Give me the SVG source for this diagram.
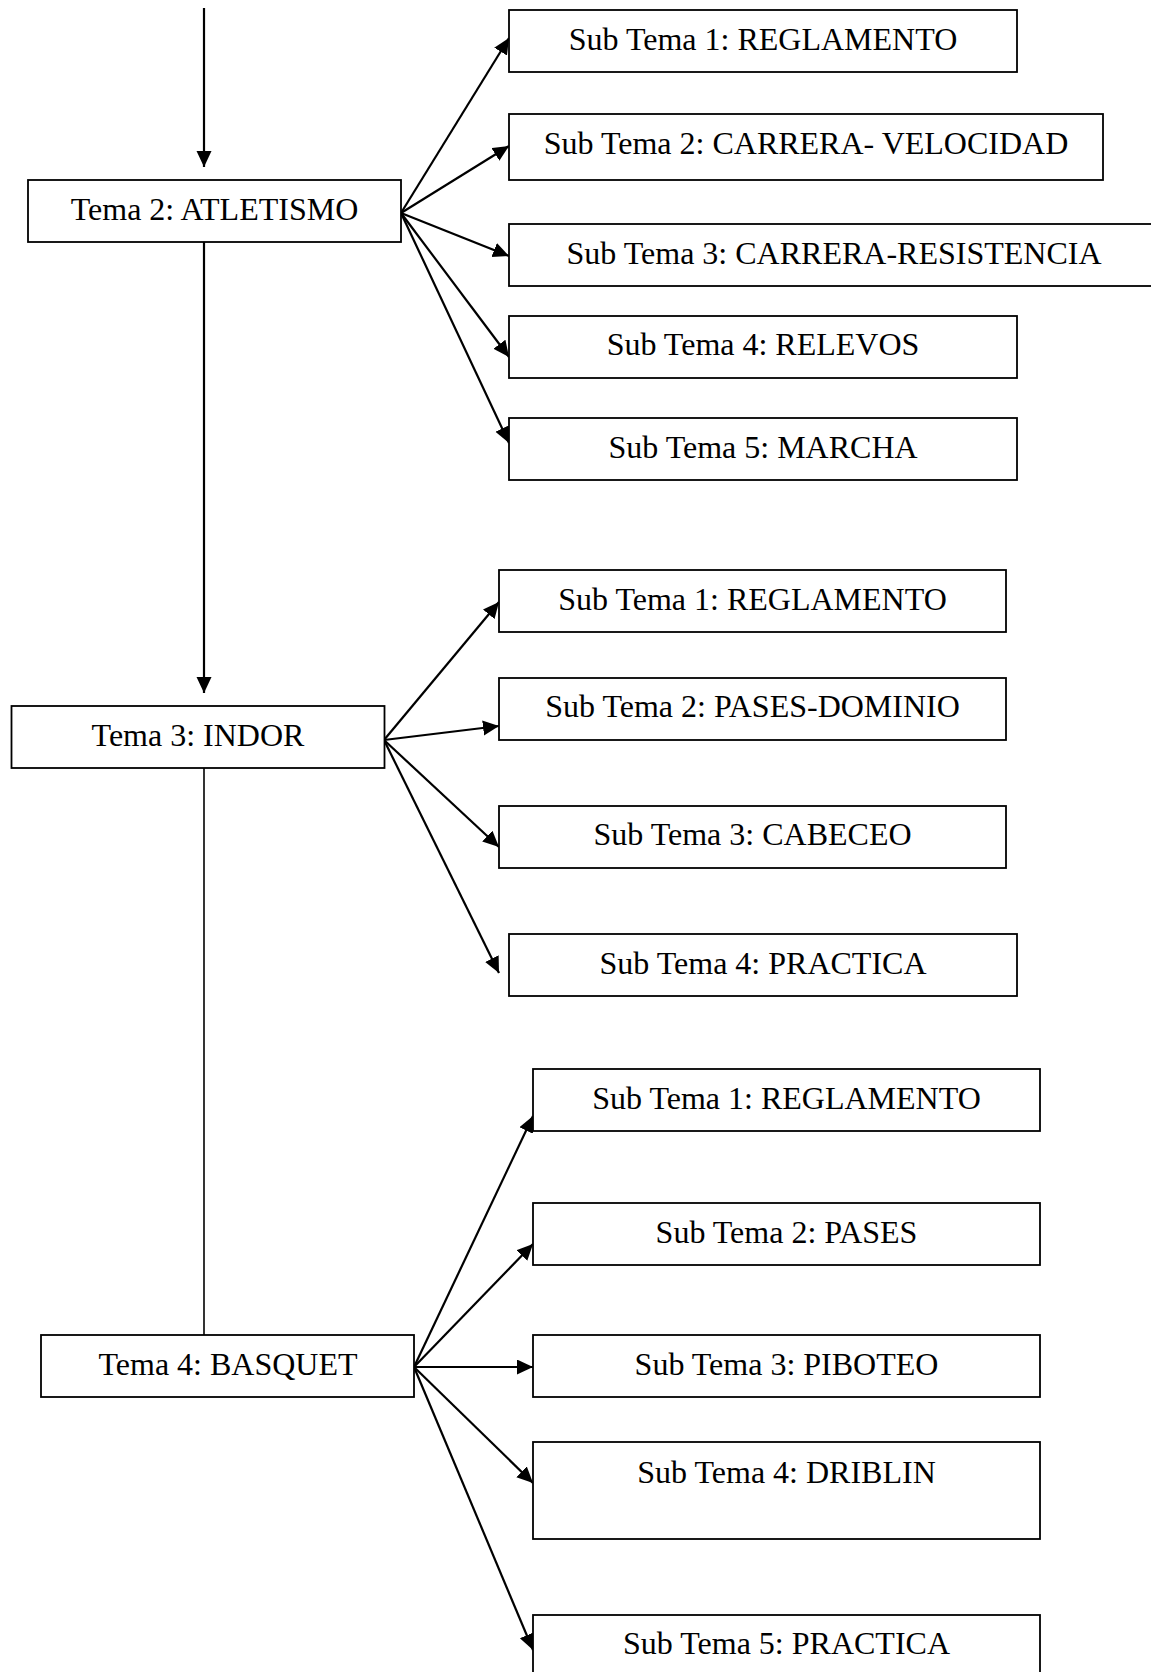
<svg xmlns="http://www.w3.org/2000/svg" width="1151" height="1672" viewBox="0 0 1151 1672">
<style>
.box{fill:#fff;stroke:#000;stroke-width:1.8}
.lbl{font-family:"Liberation Serif","Times New Roman",serif;font-size:32px;fill:#000;text-anchor:middle}
.ln{stroke:#000;stroke-width:1.6;fill:none}
.arr{stroke:#000;stroke-width:2.2;fill:none;marker-end:url(#ah)}
</style>
<defs>
<marker id="ah" markerUnits="userSpaceOnUse" markerWidth="17" markerHeight="16" refX="16" refY="7.5" orient="auto">
<path d="M0,0 L16,7.5 L0,15 z" fill="#000"/>
</marker>
</defs>
<rect width="1151" height="1672" fill="#fff"/>
<g id="connectors">
<line class="arr" x1="204" y1="8" x2="204" y2="167"/>
<line class="arr" x1="204" y1="242" x2="204" y2="693"/>
<line class="ln" x1="204" y1="768" x2="204" y2="1335"/>
<line class="arr" x1="401" y1="213" x2="509" y2="38"/>
<line class="arr" x1="401" y1="213" x2="509" y2="146"/>
<line class="arr" x1="401" y1="213" x2="509" y2="256"/>
<line class="arr" x1="401" y1="213" x2="509" y2="357"/>
<line class="arr" x1="401" y1="213" x2="509" y2="443"/>
<line class="arr" x1="384" y1="740" x2="499" y2="602"/>
<line class="arr" x1="384" y1="740" x2="499" y2="726"/>
<line class="arr" x1="384" y1="740" x2="499" y2="847"/>
<line class="arr" x1="384" y1="740" x2="499" y2="973"/>
<line class="arr" x1="414" y1="1367" x2="533" y2="1116"/>
<line class="arr" x1="414" y1="1367" x2="533" y2="1244"/>
<line class="arr" x1="414" y1="1367" x2="533" y2="1367"/>
<line class="arr" x1="414" y1="1367" x2="533" y2="1483"/>
<line class="arr" x1="414" y1="1367" x2="533" y2="1650"/>
</g>
<g id="tema2"><rect class="box" x="28" y="180" width="373" height="62"/><text class="lbl" x="214.5" y="220">Tema 2: ATLETISMO</text></g>
<g id="tema3"><rect class="box" x="11.5" y="706" width="373" height="62"/><text class="lbl" x="198" y="745.5">Tema 3: INDOR</text></g>
<g id="tema4"><rect class="box" x="41" y="1335" width="373" height="62"/><text class="lbl" x="228" y="1374.5">Tema 4: BASQUET</text></g>
<g id="a1"><rect class="box" x="509" y="10" width="508" height="62"/><text class="lbl" x="763" y="49.5">Sub Tema 1: REGLAMENTO</text></g>
<g id="a2"><rect class="box" x="509" y="114" width="594" height="66"/><text class="lbl" x="806" y="154">Sub Tema 2: CARRERA- VELOCIDAD</text></g>
<g id="a3"><rect class="box" x="509" y="224" width="650" height="62"/><text class="lbl" x="834" y="263.5">Sub Tema 3: CARRERA-RESISTENCIA</text></g>
<g id="a4"><rect class="box" x="509" y="316" width="508" height="62"/><text class="lbl" x="763" y="355">Sub Tema 4: RELEVOS</text></g>
<g id="a5"><rect class="box" x="509" y="418" width="508" height="62"/><text class="lbl" x="763" y="457.5">Sub Tema 5: MARCHA</text></g>
<g id="i1"><rect class="box" x="499" y="570" width="507" height="62"/><text class="lbl" x="752.5" y="609.5">Sub Tema 1: REGLAMENTO</text></g>
<g id="i2"><rect class="box" x="499" y="678" width="507" height="62"/><text class="lbl" x="752.5" y="717">Sub Tema 2: PASES-DOMINIO</text></g>
<g id="i3"><rect class="box" x="499" y="806" width="507" height="62"/><text class="lbl" x="752.5" y="845">Sub Tema 3: CABECEO</text></g>
<g id="i4"><rect class="box" x="509" y="934" width="508" height="62"/><text class="lbl" x="763" y="973.5">Sub Tema 4: PRACTICA</text></g>
<g id="b1"><rect class="box" x="533" y="1069" width="507" height="62"/><text class="lbl" x="786.5" y="1108.5">Sub Tema 1: REGLAMENTO</text></g>
<g id="b2"><rect class="box" x="533" y="1203" width="507" height="62"/><text class="lbl" x="786.5" y="1242.5">Sub Tema 2: PASES</text></g>
<g id="b3"><rect class="box" x="533" y="1335" width="507" height="62"/><text class="lbl" x="786.5" y="1374.5">Sub Tema 3: PIBOTEO</text></g>
<g id="b4"><rect class="box" x="533" y="1442" width="507" height="97"/><text class="lbl" x="786.5" y="1482.5">Sub Tema 4: DRIBLIN</text></g>
<g id="b5"><rect class="box" x="533" y="1615" width="507" height="80"/><text class="lbl" x="786.5" y="1654">Sub Tema 5: PRACTICA</text></g>
</svg>
